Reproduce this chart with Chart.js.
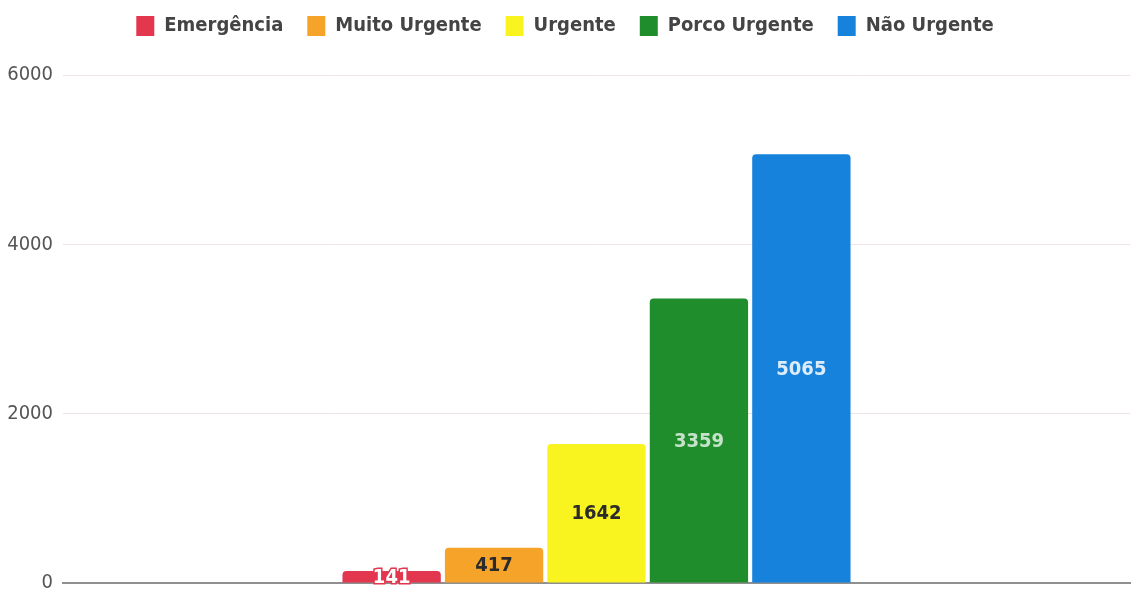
<!DOCTYPE html>
<html>
<head>
<meta charset="utf-8">
<script src="https://cdn.jsdelivr.net/npm/chart.js@4.4.1/dist/chart.umd.min.js"></script>
<style>
  html, body { margin: 0; padding: 0; background: #fff; }
  #wrap { width: 1143px; height: 595px; }
</style>
</head>
<body>
<div id="wrap"><canvas id="barChart"></canvas></div>
<script>
const categories = [""];
const seriesNames = ["Emergência", "Muito Urgente", "Urgente", "Porco Urgente", "Não Urgente"];
const seriesValues = [141, 417, 1642, 3359, 5065];
const seriesColors = ["#e3364f", "#f6a32a", "#f9f41f", "#1f8d2c", "#1782dc"];
const labelColors = ["#ffffff", "#2b2b2b", "#2b2b2b", "rgba(255,255,255,0.75)", "rgba(255,255,255,0.85)"];
const labelStroke = ["#e3364f", null, null, null, null];
const yTicks = [0, 2000, 4000, 6000];

const FONT = "'Liberation Sans Narrow', 'DejaVu Sans Condensed', 'Roboto', sans-serif";

// draw the value inside each bar (no datalabels plugin available offline)
const barValues = {
    id: "barValues",
    afterDatasetsDraw(chart) {
        const ctx = chart.ctx;
        ctx.save();
        ctx.font = "bold 20px " + FONT;
        ctx.textAlign = "center";
        ctx.textBaseline = "middle";
        chart.data.datasets.forEach((ds, i) => {
            const bar = chart.getDatasetMeta(i).data[0];
            const y = (bar.y + bar.base) / 2 + 1;
            if (labelStroke[i]) {
                ctx.lineWidth = 3;
                ctx.strokeStyle = labelStroke[i];
                ctx.strokeText(ds.data[0], bar.x, y);
            }
            ctx.fillStyle = labelColors[i];
            ctx.fillText(ds.data[0], bar.x, y);
        });
        ctx.restore();
    }
};

// extra room under the legend so the plot starts lower
const legendGap = {
    id: "legendGap",
    afterInit(chart) {
        const lg = chart.legend;
        const fit = lg.fit.bind(lg);
        lg.fit = function () {
            fit();
            this.height += 29;
        };
    }
};

const barChart = new Chart(document.getElementById("barChart"), {
    type: "bar",
    data: {
        labels: categories,
        datasets: seriesNames.map((name, i) => ({
            label: name,
            data: [seriesValues[i]],
            backgroundColor: seriesColors[i],
            borderRadius: { topLeft: 4, topRight: 4 },
            borderSkipped: "bottom",
            categoryPercentage: 0.48,
            barPercentage: 0.96
        }))
    },
    options: {
        responsive: true,
        maintainAspectRatio: false,
        animation: false,
        layout: {
            padding: { top: -8, right: 13, bottom: 12, left: 0 }
        },
        scales: {
            x: {
                grid: { display: false, drawTicks: false },
                border: { display: true, color: "#8f8f8f", width: 2 },
                ticks: { display: false, padding: 0 }
            },
            y: {
                min: 0,
                max: 6000,
                afterBuildTicks: axis => { axis.ticks = yTicks.map(v => ({ value: v })); },
                afterFit: axis => {
                    axis.width = 63;
                    axis.paddingTop = 0;
                    axis.paddingBottom = 0;
                },
                grid: { color: "#eee3e5", drawTicks: false },
                border: { display: false },
                ticks: {
                    padding: 10,
                    color: "#555",
                    font: { family: FONT, size: 20 },
                    callback: v => String(v)
                }
            }
        },
        plugins: {
            legend: {
                position: "top",
                labels: {
                    boxWidth: 18,
                    boxHeight: 20,
                    padding: 24,
                    color: "#444",
                    font: { family: FONT, size: 20, weight: "bold" }
                }
            },
            tooltip: { enabled: false }
        }
    },
    plugins: [barValues, legendGap]
});
</script>
</body>
</html>
